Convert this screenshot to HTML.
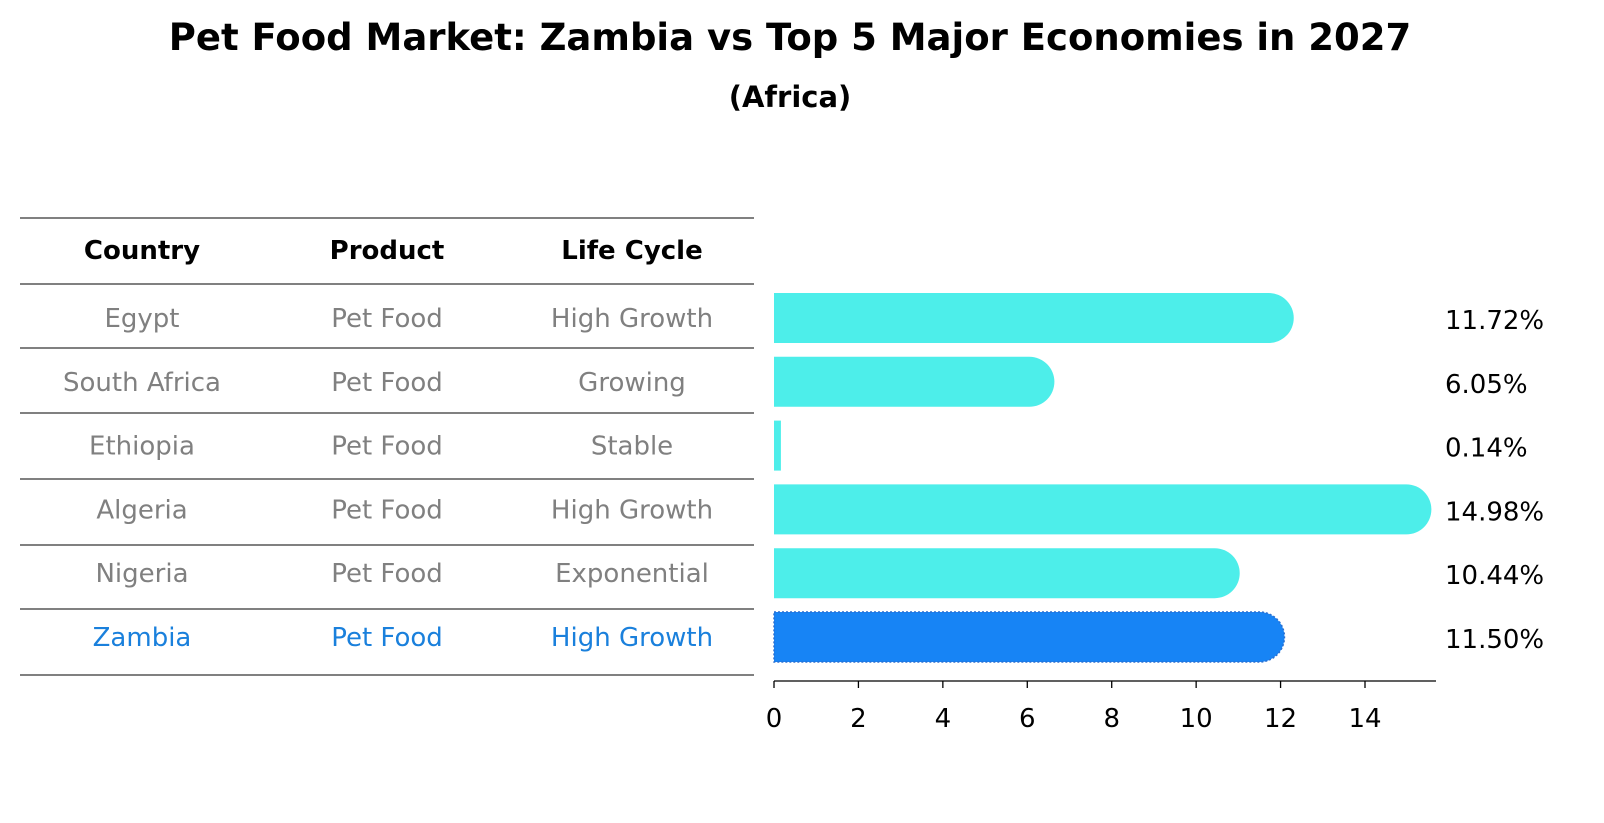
<!DOCTYPE html>
<html><head><meta charset="utf-8"><style>
body{margin:0;background:#fff;}
svg{display:block;font-family:"DejaVu Sans","Liberation Sans",sans-serif;}
</style></head><body>
<svg width="1604" height="823" viewBox="0 0 1604 823" xmlns="http://www.w3.org/2000/svg">
<text x="790" y="50" text-anchor="middle" font-size="37" font-weight="bold">Pet Food Market: Zambia vs Top 5 Major Economies in 2027</text>
<text x="790" y="107" text-anchor="middle" font-size="29" font-weight="bold">(Africa)</text>
<g id="table"></g>
<g id="bars"></g>
<g id="axis"></g>
</svg>
<script>
const countries=["Egypt","South Africa","Ethiopia","Algeria","Nigeria","Zambia"];
const products=["Pet Food","Pet Food","Pet Food","Pet Food","Pet Food","Pet Food"];
const lifeCycles=["High Growth","Growing","Stable","High Growth","Exponential","High Growth"];
const values=[11.72,6.05,0.14,14.98,10.44,11.50];
const tickLabels=[0,2,4,6,8,10,12,14];
const NS="http://www.w3.org/2000/svg";
function mk(tag,attrs,parent,txt){const e=document.createElementNS(NS,tag);for(const k in attrs)e.setAttribute(k,attrs[k]);if(txt!==undefined)e.textContent=txt;parent.appendChild(e);return e;}
const x0=774,ppu=591/14;
const xs=v=>x0+v*ppu;
const rowY=i=>318+i*63.8;
const table=document.getElementById('table');
const lines=[218,284,348,413,479,545,609,675];
lines.forEach((y,i)=>{const l=mk('line',{x1:20,x2:754,y1:y,y2:y,stroke:'#000','stroke-width':1},table);

});
const colX=[142,387,632];
["Country","Product","Life Cycle"].forEach((h,j)=>{const t=mk('text',{x:colX[j],y:259,'text-anchor':'middle','font-size':26,'font-weight':'bold'},table,h);

});
countries.forEach((c,i)=>{const col=i===5?'#1a80dc':'#808080';
[c,products[i],lifeCycles[i]].forEach((s,j)=>{const t=mk('text',{x:colX[j],y:rowY(i)+9,'text-anchor':'middle','font-size':26,fill:col},table,s);

});});
const bars=document.getElementById('bars');
const h=50,r=25;
values.forEach((v,i)=>{const yc=rowY(i),top=yc-h/2,xe=xs(v);const zam=i===5;const fill=zam?'#1784f5':'#4deeea';
let el;
if(xe-x0>r){el=mk('path',{d:`M${x0},${top} H${xe} A${r},${r} 0 0 1 ${xe},${top+h} H${x0} Z`,fill:fill},bars);}
else{el=mk('rect',{x:x0,y:top,width:Math.max(xe-x0,1)+1,height:h,fill:fill},bars);}
if(zam){el.setAttribute('stroke','#2a6fd0');el.setAttribute('stroke-dasharray','2 2');el.setAttribute('stroke-width','1.5');}


const t=mk('text',{x:1445,y:yc+11,'font-size':26},bars,v.toFixed(2)+'%');

});
const axis=document.getElementById('axis');
mk('line',{x1:x0,x2:1436,y1:681,y2:681,stroke:'#000','stroke-width':1.3},axis);
tickLabels.forEach(v=>{const x=xs(v);mk('line',{x1:x,x2:x,y1:681,y2:688,stroke:'#000','stroke-width':1.3},axis);
const t=mk('text',{x:x,y:727,'text-anchor':'middle','font-size':26},axis,v);

});
</script>
</body></html>
